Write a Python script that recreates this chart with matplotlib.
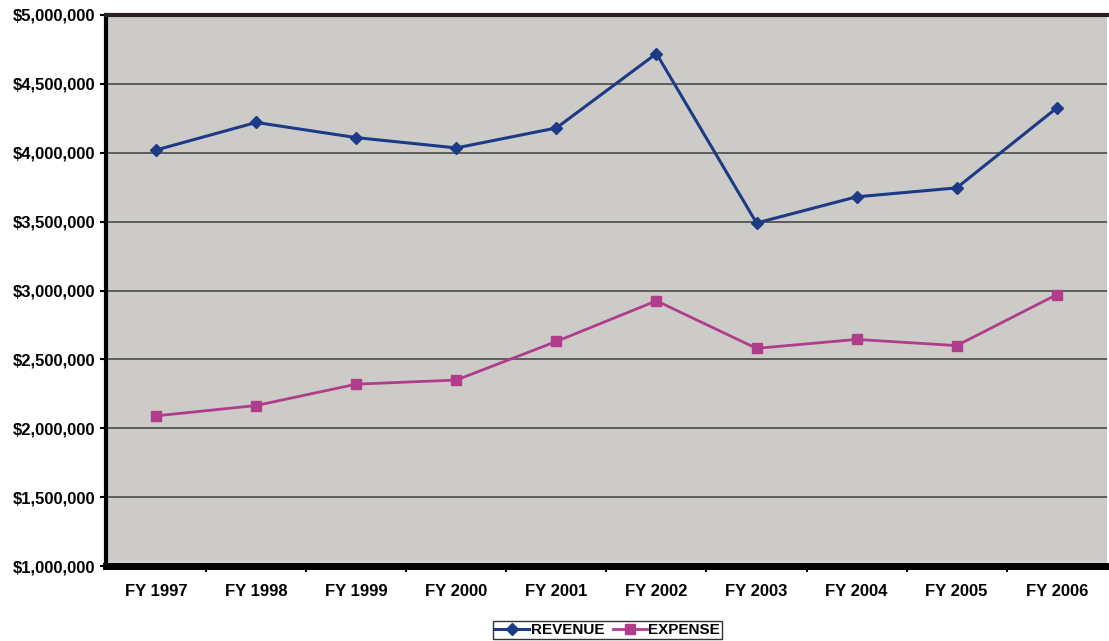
import matplotlib.pyplot as plt
from matplotlib.ticker import FuncFormatter, MultipleLocator

plt.rcParams["font.family"] = ["Liberation Sans", "DejaVu Sans"]

years = ["FY 1997", "FY 1998", "FY 1999", "FY 2000", "FY 2001",
         "FY 2002", "FY 2003", "FY 2004", "FY 2005", "FY 2006"]
revenue = [4020000, 4220000, 4110000, 4035000, 4180000,
           4720000, 3490000, 3680000, 3745000, 4325000]
expense = [2090000, 2165000, 2320000, 2350000, 2630000,
           2925000, 2580000, 2645000, 2600000, 2970000]

fig = plt.figure(figsize=(11.09, 6.41), dpi=100)
ax = fig.add_axes([0.0956, 0.117, 0.9024, 0.8596])
ax.set_facecolor("#cdcbc7")

x = range(len(years))
ax.plot(x, revenue, color="#1c3a86", lw=2.2, marker="D", ms=6, label="REVENUE")
ax.plot(x, expense, color="#b03c8c", lw=2.0, marker="s", ms=7, label="EXPENSE")

ax.set_xlim(-0.5, len(years) - 0.5)
ax.set_ylim(1000000, 5000000)
ax.yaxis.set_major_locator(MultipleLocator(500000))
ax.yaxis.set_major_formatter(FuncFormatter(lambda v, p: f"${v:,.0f}"))
ax.grid(axis="y", color="#4a4a4a", lw=1.2)
ax.set_axisbelow(True)

ax.set_xticks(list(x))
ax.set_xticklabels(years)
ax.set_xticks([i - 0.5 for i in range(1, len(years))], minor=True)
ax.tick_params(axis="x", which="major", length=0, pad=13)
ax.tick_params(axis="x", which="minor", length=4, width=1.5, color="black")
ax.tick_params(axis="y", length=4, width=1.5, pad=4)
for lab in ax.get_xticklabels() + ax.get_yticklabels():
    lab.set_fontweight("bold")
    lab.set_fontsize(12)

ax.spines["left"].set_linewidth(3)
ax.spines["bottom"].set_linewidth(5)
ax.spines["top"].set_linewidth(3)
ax.spines["top"].set_color("#2a2020")
ax.spines["right"].set_visible(False)

leg = fig.legend(loc="lower center", bbox_to_anchor=(0.548, 0.0), ncol=2,
                 frameon=True, fancybox=False, edgecolor="black",
                 prop={"weight": "bold", "size": 11},
                 handlelength=2.2, handletextpad=0.1, columnspacing=0.6,
                 borderpad=0.15, borderaxespad=0.1)
leg.get_frame().set_linewidth(1)

fig.savefig("out.png", dpi=100)
